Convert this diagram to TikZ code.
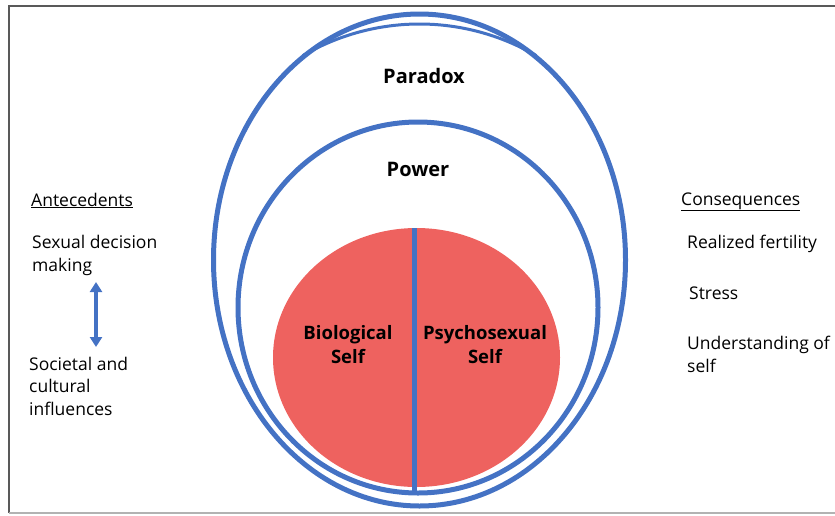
\documentclass[tikz,border=0pt]{standalone}
\usepackage{fontspec}
\setmainfont{Open Sans}
\usetikzlibrary{arrows.meta, positioning}
\definecolor{ringblue}{RGB}{68,114,196}
\definecolor{selfred}{RGB}{238,98,95}
\tikzset{
  ring/.style={draw=ringblue, line width=5pt},
  side/.style={anchor=base west, align=left, font=\fontsize{17.5}{22.5}\selectfont, inner sep=0pt},
  head/.style={font=\fontsize{20}{24}\selectfont\bfseries, inner sep=0pt},
  inner/.style={font=\fontsize{18.5}{24}\selectfont\bfseries, align=center, inner sep=0pt}
}
\begin{document}
\begin{tikzpicture}[x=1pt, y=-1pt]
  \useasboundingbox (0,0) rectangle (835,515);
  % frame
  \draw[gray!70!black, line width=1.6pt] (835,6) -- (9,6) -- (9,513);
  \draw[gray!60, line width=1.2pt] (9,513) -- (835,513);
  % rings
  \draw[ring] (419.5,260) ellipse [x radius=206, y radius=246];
  \draw[ring, line width=3pt] (419.5,260) ++(-120:233.5 and 236)
    arc[start angle=-120, end angle=-60, x radius=233.5, y radius=236];
  \draw[ring] (418,307.5) ellipse [x radius=180, y radius=185.5];
  \fill[selfred] (416.5,357.5) ellipse [x radius=143.5, y radius=129.5];
  \coordinate (divtop) at (414.5,228);
  \coordinate (divbot) at (414.5,491);
  \draw[ringblue, line width=4.5pt] (divtop) -- (divbot);
  % labels
  \node[head] (paradox) at (424,76) {Paradox};
  \node[head] (power) at (418,169) {Power};
  \node[inner] (bio) at (348,345) {Biological\\Self};
  \node[inner] (psycho) at (485,345) {Psychosexual\\Self};
  % antecedents
  \node[side] (ante) at (31,206) {\underline{Antecedents}};
  \node[side] (sdm) at (32,271) {Sexual decision\\making};
  \node[side] (sci) at (29,415) {Societal and\\cultural\\influences};
  \draw[{Triangle[width=12pt,length=10pt]}-{Triangle[width=12pt,length=10pt]}, ringblue, line width=4pt]
    (96,282) coordinate (up) -- (96,347) coordinate (down);
  % consequences
  \node[side] (cons) at (681,205) {\underline{Consequences}};
  \node[side] (fert) at (687,248) {Realized fertility};
  \node[side] (stress) at (689,299) {Stress};
  \node[side] (under) at (687,372) {Understanding of\\self};
\end{tikzpicture}
\end{document}
